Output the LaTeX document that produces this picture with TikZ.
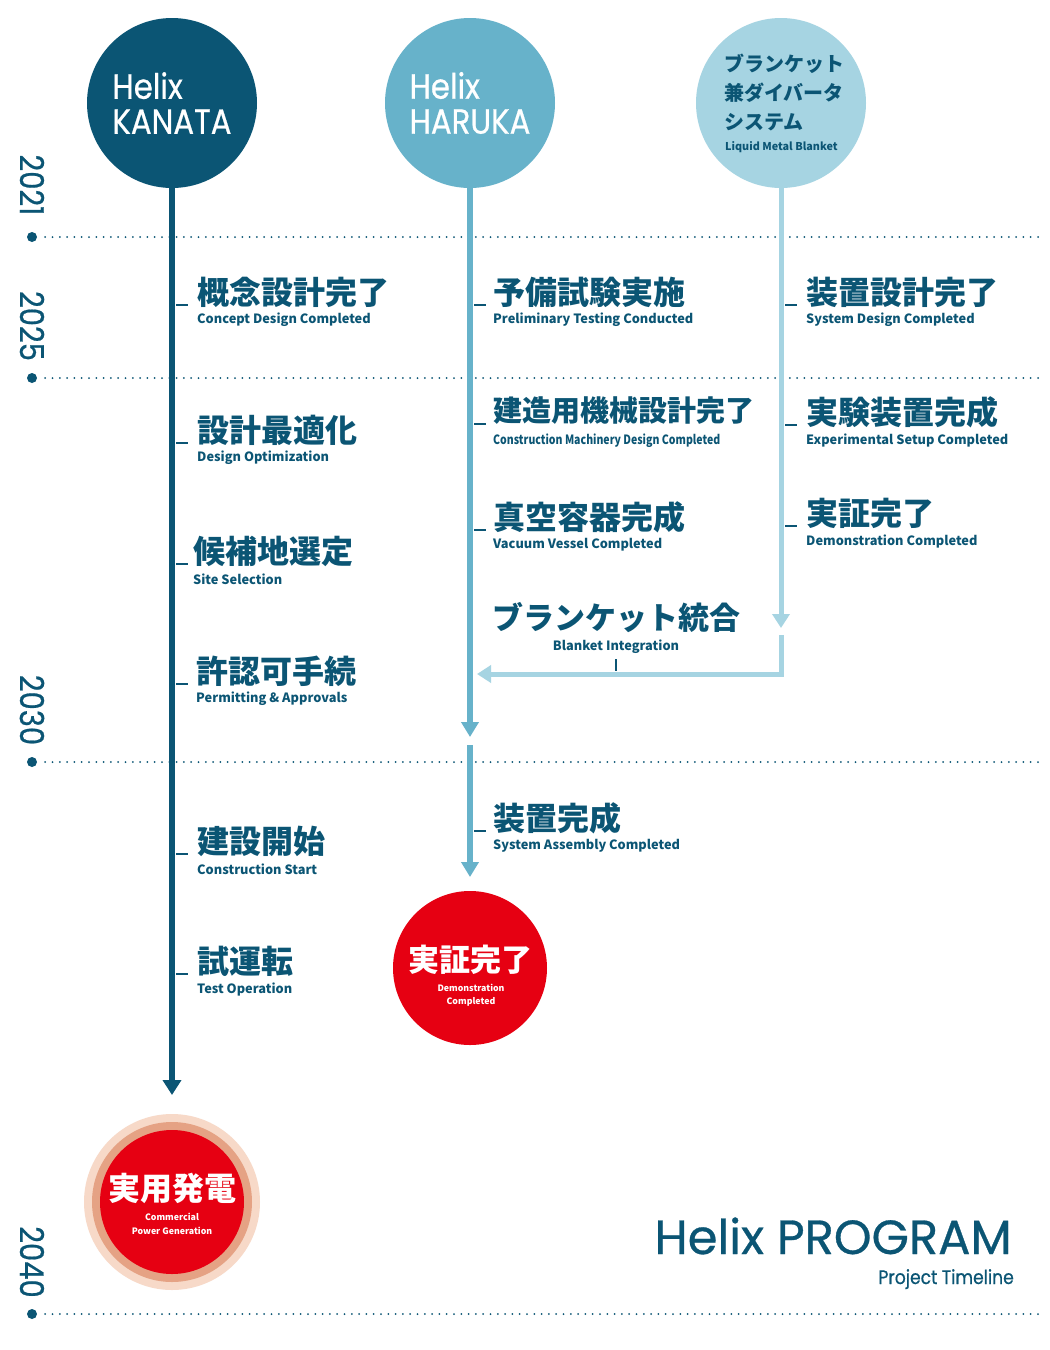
\documentclass[tikz,border=0pt]{standalone}
\usepackage{fontspec}
\usepackage{graphicx}
\usetikzlibrary{arrows.meta}
\setmainfont{Noto Sans CJK JP}
\newfontfamily\jpf{Noto Sans CJK JP}
\newfontfamily\geo[FakeStretch=0.88,FakeBold=0.6]{Poppins}
\newfontfamily\geot[FakeBold=0.6]{Poppins}
\definecolor{dk}{RGB}{11,85,116}
\definecolor{hk}{RGB}{103,178,202}
\definecolor{bl}{RGB}{166,212,226}
\definecolor{rd}{RGB}{230,0,18}
\definecolor{ringA}{RGB}{247,217,200}
\definecolor{ringB}{RGB}{229,162,132}
\newcommand\fs[1]{\fontsize{#1}{#1}\selectfont}
\newcommand\mstone[6]{%
  \draw[tickline] (#2+4,#4) -- (#2+16,#4);
  \node[jp] (#1j) at (#3,#4-13) {#5};
  \node[en] (#1e) at (#3,#4+15) {#6};
}
\begin{document}
\begin{tikzpicture}[x=1pt,y=-1pt,
  jp/.style={anchor=west,inner sep=0pt,text=dk,font=\jpf\bfseries\fs{32}},
  en/.style={anchor=west,inner sep=0pt,text=dk,font=\jpf\bfseries\fs{12.8}},
  tickline/.style={draw=dk,line width=1.6pt},
  dotline/.style={draw=dk,line width=2pt,line cap=round,dash pattern=on 0pt off 7.3pt},
  yeardot/.style={circle,fill=dk,inner sep=0pt,minimum size=10pt},
  yearlab/.style={rotate=-90,inner sep=0pt,text=dk,font=\geo\fs{33}},
  bigcirc/.style={circle,inner sep=0pt,minimum size=170pt},
  kline/.style={draw=dk,line width=6pt,-{Triangle[length=15pt,width=18pt]}},
  hline/.style={draw=hk,line width=6pt,-{Triangle[length=15pt,width=17pt]}},
  bline/.style={draw=bl,line width=5pt,-{Triangle[length=14pt,width=17pt]}},
  redtxt/.style={inner sep=0pt,text=white}]
\useasboundingbox[fill=white] (0,0) rectangle (1050,1350);

% year grid
\foreach \yr/\yy in {2021/237,2025/378,2030/762,2040/1314}{
  \node[yeardot] (d\yr) at (32,\yy) {};
  \coordinate (e\yr) at (1045,\yy);
  \draw[dotline] ([xshift=8pt]d\yr.east) -- (e\yr);
  \node[yearlab] (y\yr) at (32,\yy-52) {\yr};
}

% top circles
\node[bigcirc,fill=dk,text=white,align=left,font=\geo\fs{35}] (kanata) at (172,103)
  {\baselineskip=32pt Helix\\KANATA};
\node[bigcirc,fill=hk,text=white,align=left,font=\geo\fs{35}] (haruka) at (470,103)
  {\baselineskip=32pt Helix\\HARUKA};
\node[bigcirc,fill=bl] (blanket) at (781,103) {};
\node[inner sep=0pt,anchor=west,text=dk,font=\jpf\bfseries\fs{20}] (bt1) at (724,64) {ブランケット};
\node[inner sep=0pt,anchor=west,text=dk,font=\jpf\bfseries\fs{20}] (bt2) at (724,93) {兼ダイバータ};
\node[inner sep=0pt,anchor=west,text=dk,font=\jpf\bfseries\fs{20}] (bt3) at (724,122) {システム};
\node[inner sep=0pt,anchor=west,text=dk,font=\jpf\bfseries\fs{10.8}] (bt4) at (725,147) {Liquid Metal Blanket};

% end points
\coordinate (kend) at (172,1095);
\coordinate (hend1) at (470,737);
\coordinate (hstart2) at (470,745);
\coordinate (hend2) at (470,877);
\coordinate (bend) at (781,628);
\coordinate (bstart2) at (781,635);
\coordinate (bend2) at (477,674);

% lines
\draw[kline] (kanata.south) -- (kend);
\draw[hline] (haruka.south) -- (hend1);
\draw[hline] (hstart2) -- (hend2);
\draw[bline] (blanket.south) -- (bend);
\draw[bline,line join=miter] (bstart2) |- (bend2);

% KANATA milestones
\mstone{k1}{172}{197}{305}{概念設計完了}{Concept Design Completed}
\mstone{k2}{172}{197}{443}{設計最適化}{Design Optimization}
\mstone{k3}{172}{193}{564}{候補地選定}{Site Selection}
\mstone{k4}{172}{196}{684}{許認可手続}{Permitting \& Approvals}
\mstone{k5}{172}{197}{854}{建設開始}{Construction Start}
\mstone{k6}{172}{197}{974}{試運転}{Test Operation}

% HARUKA milestones
\mstone{h1}{470}{493}{305}{予備試験実施}{Preliminary Testing Conducted}
\draw[tickline] (474,424) -- (486,424);
\node[jp,font=\jpf\bfseries\fs{29}] (h2j) at (493,411) {建造用機械設計完了};
\node[en] (h2e) at (493,441) {\resizebox{227pt}{\height}{Construction Machinery Design Completed}};
\mstone{h3}{470}{493}{530}{真空容器完成}{Vacuum Vessel Completed}
\mstone{h4}{470}{493}{831}{装置完成}{System Assembly Completed}

% Blanket milestones
\mstone{b1}{781}{806}{305}{装置設計完了}{System Design Completed}
\mstone{b2}{781}{806}{425}{実験装置完成}{Experimental Setup Completed}
\mstone{b3}{781}{806}{526}{実証完了}{Demonstration Completed}

% integration
\node[inner sep=0pt,text=dk,font=\jpf\bfseries\fs{31}] (intj) at (616,618) {ブランケット統合};
\node[inner sep=0pt,text=dk,font=\jpf\bfseries\fs{12.8}] (inte) at (616,647) {Blanket Integration};
\coordinate (it1) at (616,659);
\coordinate (it2) at (616,671);
\draw[dk,line width=1.5pt] (it1) -- (it2);

% demonstration circle
\node[circle,fill=rd,inner sep=0pt,minimum size=154pt] (demo) at (470,968) {};
\node[redtxt,font=\jpf\bfseries\fs{31}] (demoj) at (470,960) {実証完了};
\node[redtxt,font=\jpf\bfseries\fs{8.8}] (demoe1) at (471,988) {Demonstration};
\node[redtxt,font=\jpf\bfseries\fs{8.8}] (demoe2) at (471,1002) {Completed};

% commercial power circle
\coordinate (pc) at (172,1202);
\fill[ringA] (pc) circle[radius=88pt];
\fill[ringB] (pc) circle[radius=80pt];
\node[circle,fill=rd,inner sep=0pt,minimum size=144pt] (power) at (pc) {};
\node[redtxt,font=\jpf\bfseries\fs{32}] (powj) at (172,1188) {実用発電};
\node[redtxt,font=\jpf\bfseries\fs{8.8}] (powe1) at (172,1217) {Commercial};
\node[redtxt,font=\jpf\bfseries\fs{8.8}] (powe2) at (172,1231) {Power Generation};

% title
\node[inner sep=0pt,anchor=base east,text=dk,font=\geot\fs{48}] (title) at (1012,1254) {Helix PROGRAM};
\node[inner sep=0pt,anchor=base east,text=dk,font=\geo\fs{19.5}] (subtitle) at (1014,1284) {Project Timeline};
\end{tikzpicture}
\end{document}
